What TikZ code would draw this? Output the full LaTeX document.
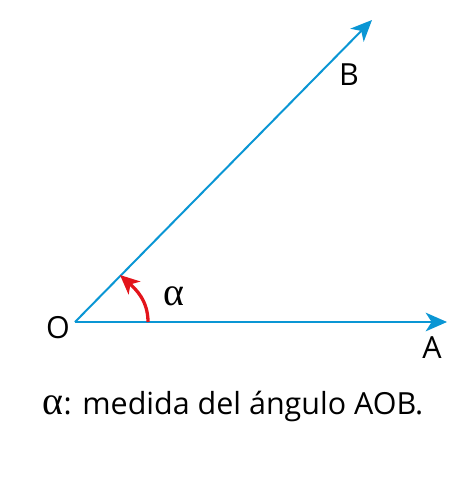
\documentclass[tikz,border=0pt]{standalone}
\usepackage{fontspec}
\setmainfont{Open Sans}
\newfontfamily\greekfont{Liberation Serif}
\usetikzlibrary{arrows.meta}
\definecolor{Ray}{HTML}{0A96D4}
\definecolor{Turn}{HTML}{E3141B}
\tikzset{
    ray/.style={Ray, line width=1.7pt, -{Stealth[length=6.4mm, width=5.6mm, inset=1.8mm]}},
    turn/.style={Turn, line width=2.8pt, -{Stealth[length=5.8mm, width=5.2mm, inset=1.6mm]}},
    lbl/.style={font=\fontsize{26}{30}\selectfont, text=black, inner sep=0pt},
}

\begin{document}
\begin{tikzpicture}[x=0.03cm, y=-0.03cm]
    \useasboundingbox (0,0) rectangle (467,479);

    % --- Puntos ---
    \coordinate (o) at (75,322);
    \coordinate (a) at (447,322);
    \coordinate (b) at (372,20);
    \coordinate (s) at (148,322);
    \coordinate (t) at (120,275);

    % --- Semirrectas ---
    \draw[ray] (o) -- (a);
    \draw[ray] (o) -- (b);

    % --- Angulo ---
    \draw[turn] (s) to[out=90, in=-42] (t);

    % --- Etiquetas ---
    \node[lbl] (lo) at (58,328) {O};
    \node[lbl] (la) at (432,348) {A};
    \node[lbl] (lb) at (349,75) {B};
    \node[lbl] (alpha) at (174,296) {\greekfont\fontsize{34}{34}\selectfont α};

    \node[lbl] (caption) at (233,406) {{\greekfont\fontsize{34}{34}\selectfont α}: medida del ángulo AOB.};
\end{tikzpicture}
\end{document}
